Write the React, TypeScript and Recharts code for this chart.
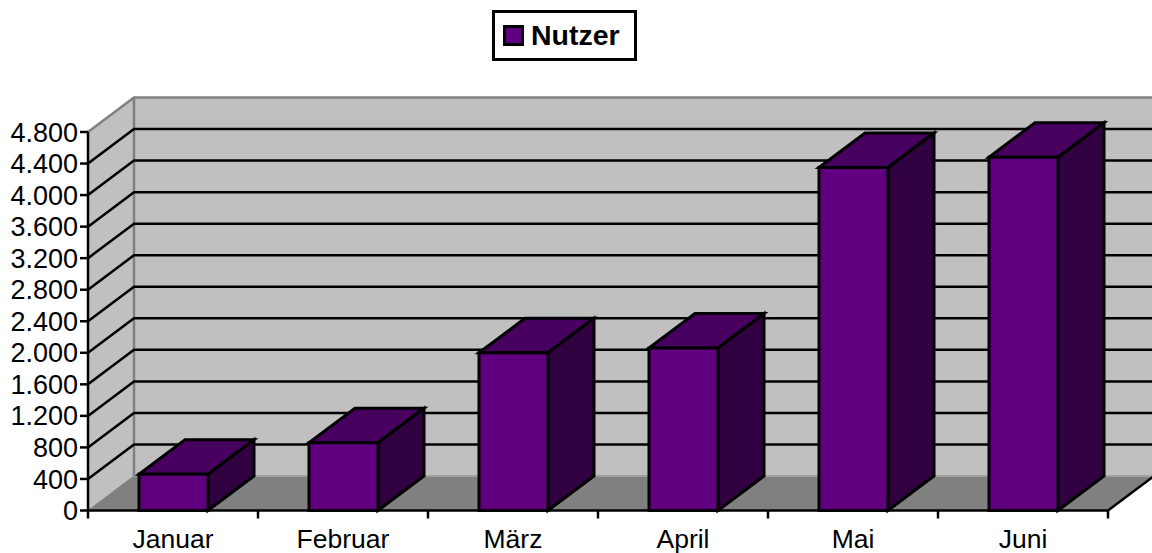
import React from "react";
import { BarChart, Bar, XAxis, YAxis, CartesianGrid, Legend, usePlotArea } from "recharts";

const months = ["Januar", "Februar", "März", "April", "Mai", "Juni"];
const nutzer = [460, 860, 2000, 2060, 4350, 4480];
const yTicks = [0, 400, 800, 1200, 1600, 2000, 2400, 2800, 3200, 3600, 4000, 4400, 4800];
const tableData = months.map((m, i) => ({ month: m, Nutzer: nutzer[i] }));

const W = 1152;
const H = 553;
const DX = 46;
const DY = 34.5;
const FONT = "'Liberation Sans', Arial, sans-serif";
const FRONT = "#600080";
const TOP = "#480060";
const SIDE = "#300040";

function Room() {
  const p = usePlotArea();
  if (!p) return null;
  const l = p.x;
  const r = p.x + p.width;
  const t = p.y;
  const b = p.y + p.height;
  return (
    <g>
      <rect x={l + DX} y={t - DY} width={W - l - DX + 2} height={p.height} fill="#c0c0c0" />
      <polygon points={`${l},${t} ${l + DX},${t - DY} ${l + DX},${b - DY} ${l},${b}`} fill="#c0c0c0" />
      <polygon points={`${l},${b} ${l + DX},${b - DY} ${r + DX + 2},${b - DY} ${r},${b}`} fill="#808080" />
      <polyline points={`${l},${t} ${l + DX},${t - DY} ${W + 2},${t - DY}`} fill="none" stroke="#808080" strokeWidth={2.5} />
      <line x1={l + DX} y1={t - DY} x2={l + DX} y2={b - DY} stroke="#808080" strokeWidth={2.5} />
      <line x1={l} y1={b} x2={l + DX} y2={b - DY} stroke="#808080" strokeWidth={1} />
      <line x1={l + DX} y1={b - DY} x2={W + 2} y2={b - DY} stroke="#a0a0a0" strokeWidth={2} />
      <line x1={r} y1={b} x2={r + DX + 2} y2={b - DY - 1.5} stroke="#000" strokeWidth={2.5} />
    </g>
  );
}

function gridLine(props: any) {
  const { x1, y1, index } = props;
  const isEdge = index === 0 || index === yTicks.length - 1;
  return (
    <g key={props.key ?? index}>
      {index === 0 && <Room />}
      {!isEdge && (
        <polyline
          points={`${x1},${y1} ${x1 + DX},${y1 - DY} ${W + 2},${y1 - DY}`}
          fill="none"
          stroke="#000"
          strokeWidth={2.5}
        />
      )}
    </g>
  );
}

function Bar3D(props: any) {
  const { x, y, width, height } = props;
  const r = x + width;
  const b = y + height;
  return (
    <g stroke="#000" strokeWidth={3} strokeLinejoin="miter">
      <polygon points={`${x},${y} ${x + DX},${y - DY} ${r + DX},${y - DY} ${r},${y}`} fill={TOP} />
      <polygon points={`${r},${y} ${r + DX},${y - DY} ${r + DX},${b - DY} ${r},${b}`} fill={SIDE} />
      <rect x={x} y={y} width={width} height={height} fill={FRONT} />
    </g>
  );
}

function XTick(props: any) {
  const { x, payload, index } = props;
  const band = (1108 - 88) / months.length;
  const tickTop = 510.5;
  return (
    <g>
      <line x1={x - band / 2} x2={x - band / 2} y1={tickTop} y2={tickTop + 8} stroke="#000" strokeWidth={2.5} />
      {index === months.length - 1 && (
        <line x1={x + band / 2} x2={x + band / 2} y1={tickTop} y2={tickTop + 8} stroke="#000" strokeWidth={2.5} />
      )}
      <text x={x} y={tickTop + 37} textAnchor="middle" fontFamily={FONT} fontSize={26.5} fill="#000">
        {payload.value}
      </text>
    </g>
  );
}

function LegendBox() {
  return (
    <div
      style={{
        boxSizing: "border-box",
        width: 145,
        height: 51,
        border: "3px solid #000",
        background: "#fff",
        display: "flex",
        alignItems: "center",
        paddingLeft: 8,
        fontFamily: FONT,
        fontWeight: 700,
        fontSize: 28.5,
        color: "#000",
      }}
    >
      <span
        style={{
          display: "inline-block",
          boxSizing: "border-box",
          width: 21,
          height: 21,
          background: FRONT,
          border: "3px solid #000",
          marginRight: 7,
        }}
      />
      Nutzer
    </div>
  );
}

export default function App() {
  return (
    <div style={{ position: "absolute", left: 0, top: 0, width: W, height: H, background: "#fff" }}>
      <BarChart
        width={W}
        height={H}
        data={tableData}
        margin={{ top: 132, right: 44, bottom: 0, left: 0 }}
        barSize={69}
      >
        <CartesianGrid vertical={false} horizontal={gridLine as any} syncWithTicks />
        <XAxis
          dataKey="month"
          height={42.5}
          axisLine={{ stroke: "#000", strokeWidth: 2.5 }}
          tickLine={false}
          tick={<XTick />}
          interval={0}
        />
        <YAxis
          width={88}
          domain={[0, 4800]}
          ticks={yTicks}
          interval={0}
          axisLine={{ stroke: "#000", strokeWidth: 2.5 }}
          tickLine={{ stroke: "#000", strokeWidth: 2.5 }}
          tickSize={8}
          tickMargin={2}
          tick={{ fontFamily: FONT, fontSize: 27, fill: "#000" }}
          tickFormatter={(v: number) => v.toLocaleString("de-DE")}
        />
        <Legend
          verticalAlign="middle"
          layout="horizontal"
          wrapperStyle={{ position: "absolute", left: 492, top: 10, width: 145, height: 51, margin: 0 }}
          content={<LegendBox />}
        />
        <Bar dataKey="Nutzer" isAnimationActive={false} fill={FRONT} shape={<Bar3D />} />
      </BarChart>
    </div>
  );
}
